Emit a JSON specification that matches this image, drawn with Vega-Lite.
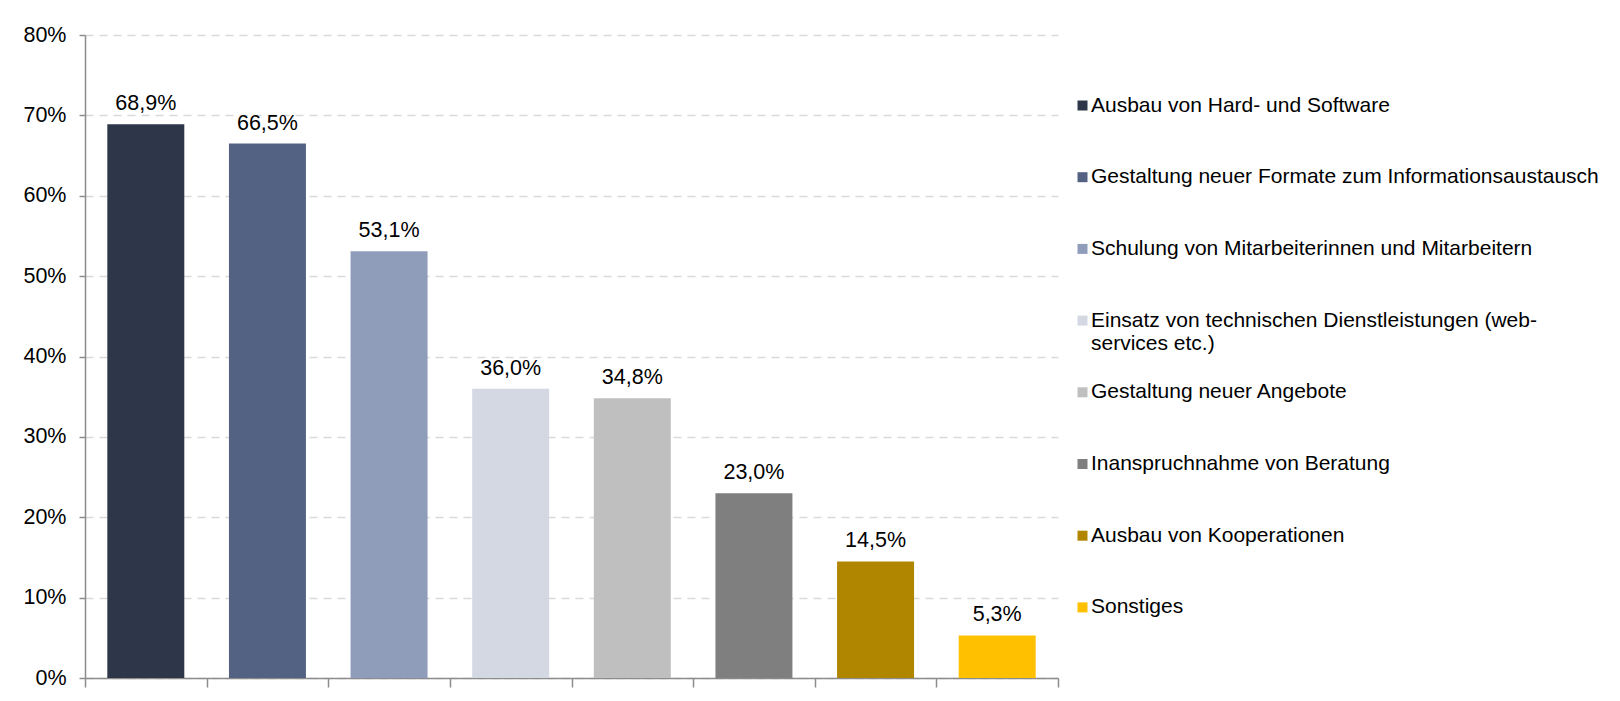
{
  "$schema": "https://vega.github.io/schema/vega-lite/v6.json",
  "autosize": {"type": "none"},
  "padding": {"left": 85, "top": 35, "right": 562, "bottom": 23},
  "width": 973,
  "height": 643,
  "background": "white",
  "config": {
    "view": {"stroke": null},
    "font": "Liberation Sans",
    "locale": {"number": {"decimal": ",", "thousands": ".", "grouping": [3], "currency": ["", " €"]}}
  },
  "data": {
    "values": [
      {"kategorie": "Ausbau von Hard- und Software", "anteil": 0.689},
      {"kategorie": "Gestaltung neuer Formate zum Informationsaustausch", "anteil": 0.665},
      {"kategorie": "Schulung von Mitarbeiterinnen und Mitarbeitern", "anteil": 0.531},
      {"kategorie": "Einsatz von technischen Dienstleistungen (web-services etc.)", "anteil": 0.360},
      {"kategorie": "Gestaltung neuer Angebote", "anteil": 0.348},
      {"kategorie": "Inanspruchnahme von Beratung", "anteil": 0.230},
      {"kategorie": "Ausbau von Kooperationen", "anteil": 0.145},
      {"kategorie": "Sonstiges", "anteil": 0.053}
    ]
  },
  "encoding": {
    "x": {
      "field": "kategorie",
      "type": "nominal",
      "sort": null,
      "scale": {"paddingInner": 0, "paddingOuter": 0},
      "axis": {
        "title": null,
        "labels": false,
        "tickBand": "extent",
        "tickSize": 9,
        "tickColor": "#8c8c8c",
        "tickWidth": 1.5,
        "domainColor": "#8c8c8c",
        "domainWidth": 1.5,
        "grid": false
      }
    },
    "y": {
      "field": "anteil",
      "type": "quantitative",
      "scale": {"domain": [0, 0.8], "nice": false},
      "axis": {
        "title": null,
        "values": [0, 0.1, 0.2, 0.3, 0.4, 0.5, 0.6, 0.7, 0.8],
        "format": ".0%",
        "labelFontSize": 21.5,
        "labelColor": "#000000",
        "labelPadding": 13,
        "tickSize": 6,
        "tickColor": "#8c8c8c",
        "tickWidth": 1.5,
        "domainColor": "#8c8c8c",
        "domainWidth": 1.5,
        "grid": true,
        "gridColor": "#d9d9d9",
        "gridWidth": 1.5,
        "gridDash": [8, 6]
      }
    }
  },
  "layer": [
    {
      "mark": {"type": "bar", "width": {"band": 0.633}},
      "encoding": {
        "color": {
          "field": "kategorie",
          "type": "nominal",
          "sort": null,
          "scale": {
            "domain": [
              "Ausbau von Hard- und Software",
              "Gestaltung neuer Formate zum Informationsaustausch",
              "Schulung von Mitarbeiterinnen und Mitarbeitern",
              "Einsatz von technischen Dienstleistungen (web-services etc.)",
              "Gestaltung neuer Angebote",
              "Inanspruchnahme von Beratung",
              "Ausbau von Kooperationen",
              "Sonstiges"
            ],
            "range": ["#2e3649", "#536283", "#8f9cba", "#d3d8e3", "#bfbfbf", "#7f7f7f", "#b08600", "#ffc000"]
          },
          "legend": {
            "title": null,
            "orient": "none",
            "legendX": 987,
            "legendY": 60,
            "symbolType": "square",
            "symbolSize": 100,
            "symbolStrokeWidth": 0,
            "labelFontSize": 21,
            "labelColor": "#000000",
            "labelOffset": -2,
            "labelLimit": 600,
            "labelBaseline": "middle",
            "labelLineHeight": 25,
            "gridAlign": "all",
            "rowPadding": 26.7,
            "labelExpr": "datum.label == 'Einsatz von technischen Dienstleistungen (web-services etc.)' ? ['Einsatz von technischen Dienstleistungen (web-', 'services etc.)'] : datum.label"
          }
        }
      }
    },
    {
      "mark": {"type": "text", "baseline": "alphabetic", "dy": -14, "fontSize": 21.5, "color": "#000000"},
      "encoding": {
        "text": {"field": "anteil", "type": "quantitative", "format": ".1%"}
      }
    }
  ]
}
